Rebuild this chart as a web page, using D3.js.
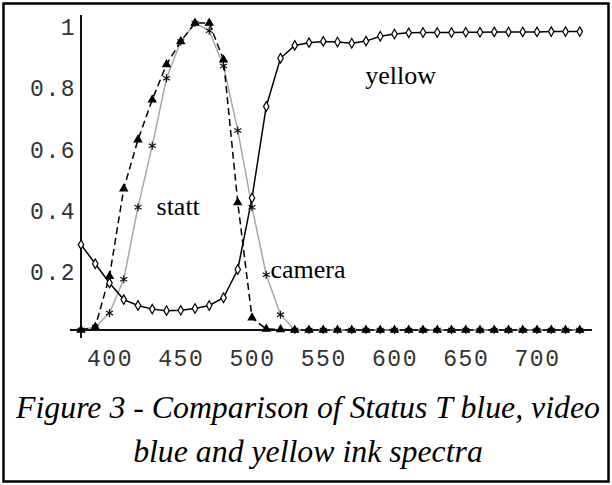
<!DOCTYPE html>
<html>
<head>
<meta charset="utf-8">
<script src="https://cdnjs.cloudflare.com/ajax/libs/d3/7.8.5/d3.min.js"></script>
<style>
    html, body { margin: 0; padding: 0; background: #fff; }
    svg { display: block; }
</style>
</head>
<body>
<svg id="chart" width="612" height="485"></svg>
<script>
// wavelengths (nm), one point every 10 nm
const wavelengths = [380, 390, 400, 410, 420, 430, 440, 450, 460, 470, 480, 490, 500, 510, 520, 530,
    540, 550, 560, 570, 580, 590, 600, 610, 620, 630, 640, 650, 660, 670, 680, 690, 700, 710, 720, 730];

// Status T blue (grey line, star markers)
const statt = [0, 0.01, 0.055, 0.165, 0.40, 0.60, 0.82, 0.94, 1.0, 0.975, 0.86, 0.65, 0.40, 0.18, 0.05, 0,
    0, 0, 0, 0, 0, 0, 0, 0, 0, 0, 0, 0, 0, 0, 0, 0, 0, 0, 0, 0];

// video blue (dashed line, triangle markers)
const camera = [0, 0.01, 0.175, 0.46, 0.62, 0.75, 0.865, 0.94, 1.0, 1.0, 0.88, 0.415, 0.04, 0.003, 0.002, 0,
    0, 0, 0, 0, 0, 0, 0, 0, 0, 0, 0, 0, 0, 0, 0, 0, 0, 0, 0, 0];

// yellow ink (solid black line, diamond markers)
const yellow = [0.278, 0.216, 0.153, 0.099, 0.08, 0.068, 0.063, 0.064, 0.07, 0.08, 0.105, 0.197, 0.43, 0.728, 0.885, 0.927,
    0.936, 0.94, 0.938, 0.934, 0.941, 0.957, 0.964, 0.968, 0.969, 0.969, 0.969, 0.97, 0.97, 0.971, 0.971, 0.971, 0.971, 0.972, 0.972, 0.972];

const xTicks = [400, 450, 500, 550, 600, 650, 700];
const yTicks = [0.2, 0.4, 0.6, 0.8, 1];

const curveLabels = [
    {text: "yellow", nm: 579.5, v: 0.80},
    {text: "statt", nm: 433, v: 0.375},
    {text: "camera", nm: 513, v: 0.17}
];

const caption = ["Figure 3 - Comparison of Status T blue, video", "blue and yellow ink spectra"];

const svg = d3.select("#chart");

// frame round the whole figure
svg.append("rect")
    .attr("x", 3.5).attr("y", 3.5)
    .attr("width", 605).attr("height", 478)
    .attr("fill", "none")
    .attr("stroke", "#000")
    .attr("stroke-width", 2.5);

const x = d3.scaleLinear().domain([380, 700]).range([81, 537]);
const y = d3.scaleLinear().domain([0, 1]).range([330, 23]);

// axes cross at (380, 0), Mathematica style
const xAxis = d3.axisBottom(x).tickValues(xTicks).tickSize(0).tickPadding(20);
const yAxis = d3.axisLeft(y).tickValues(yTicks).tickSize(0).tickPadding(5)
    .tickFormat(function (d) { return d === 1 ? "1" : d3.format(".1f")(d); });

const gx = svg.append("g").attr("transform", "translate(0," + y(0) + ")").call(xAxis);
const gy = svg.append("g").attr("transform", "translate(" + x(380) + ",0)").call(yAxis);

gx.select(".domain").remove();
gy.select(".domain").remove();
gy.selectAll(".tick text").attr("dy", "0.75em").attr("y", -6);

svg.append("line")
    .attr("x1", 70).attr("x2", 592)
    .attr("y1", y(0)).attr("y2", y(0))
    .attr("stroke", "#111").attr("stroke-width", 2);
svg.append("line")
    .attr("x1", x(380)).attr("x2", x(380))
    .attr("y1", 15).attr("y2", 338)
    .attr("stroke", "#111").attr("stroke-width", 2);

svg.selectAll(".tick text")
    .attr("font-family", "'Liberation Mono', monospace")
    .attr("font-size", 23)
    .attr("letter-spacing", 1.5)
    .attr("fill", "#333");

const line = d3.line()
    .x(function (d) { return x(d[0]); })
    .y(function (d) { return y(d[1]); });

function pairs(values) {
    return wavelengths.map(function (w, i) { return [w, values[i]]; });
}

const series = [
    {values: statt, color: "#a8a8a8", dash: null, symbol: d3.symbolAsterisk, size: 45, fill: "none", stroke: "#111"},
    {values: camera, color: "#000", dash: "7,4", symbol: d3.symbolTriangle, size: 24, fill: "#000", stroke: "#000"},
    {values: yellow, color: "#000", dash: null, symbol: d3.symbolDiamond, size: 26, fill: "#fff", stroke: "#000"}
];

series.forEach(function (s) {
    svg.append("path")
        .datum(pairs(s.values))
        .attr("d", line)
        .attr("fill", "none")
        .attr("stroke", s.color)
        .attr("stroke-width", 1.5)
        .attr("stroke-dasharray", s.dash);

    svg.append("g").selectAll("path")
        .data(pairs(s.values))
        .join("path")
        .attr("transform", function (d) { return "translate(" + x(d[0]) + "," + y(d[1]) + ")"; })
        .attr("d", d3.symbol().type(s.symbol).size(s.size))
        .attr("fill", s.fill)
        .attr("stroke", s.stroke)
        .attr("stroke-width", 1.2);
});

// curve names
svg.append("g").selectAll("text")
    .data(curveLabels)
    .join("text")
    .attr("x", function (d) { return x(d.nm); })
    .attr("y", function (d) { return y(d.v); })
    .attr("font-family", "'Liberation Serif', 'Times New Roman', serif")
    .attr("font-size", 26)
    .attr("fill", "#000")
    .text(function (d) { return d.text; });

svg.append("g").selectAll("text")
    .data(caption)
    .join("text")
    .attr("x", 308)
    .attr("y", function (d, i) { return 418 + i * 44; })
    .attr("text-anchor", "middle")
    .attr("font-family", "'Liberation Serif', 'Times New Roman', serif")
    .attr("font-style", "italic")
    .attr("font-size", 31.8)
    .attr("fill", "#000")
    .text(function (d) { return d; });
</script>
</body>
</html>
